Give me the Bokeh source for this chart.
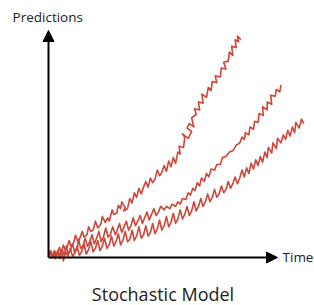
from bokeh.plotting import figure
from bokeh.models import Range1d, Arrow, NormalHead, Label
from bokeh.embed import file_html
from bokeh.resources import INLINE

# ---- data: (time, prediction) ----
path_top = [
    (0, 1.0), (1.0, 3.0), (1.8, 0.5), (3.0, 2.5), (3.5, 1.0), (4.8, 4.5), (5.5, 2.0), (6.5, 5.5),
    (7.2, 3.5), (8.0, 4.0), (9.0, 7.5), (9.8, 5.0), (11.0, 6.5), (11.8, 9.8), (12.8, 7.0),
    (13.5, 8.0), (14.8, 11.5), (15.5, 9.0), (16.8, 10.0), (17.5, 13.5), (18.5, 11.5), (19.5, 12.0),
    (20.5, 16.0), (21.5, 13.0), (22.8, 14.5), (23.5, 18.0), (24.8, 15.5), (25.8, 17.5), (26.5, 16.0),
    (27.8, 21.0), (28.5, 19.0), (29.8, 19.5), (30.5, 23.0), (31.5, 21.5), (32.0, 24.5), (33.5, 22.0),
    (32.8, 20.5), (34.5, 21.5), (35.5, 26.0), (36.5, 24.0), (37.5, 28.5), (38.5, 26.5), (39.5, 30.5),
    (40.5, 28.0), (41.5, 31.0), (42.5, 33.5), (43.5, 31.0), (44.5, 35.0), (45.5, 33.0), (46.5, 34.5),
    (47.5, 38.5), (48.5, 36.0), (49.5, 37.5), (50.5, 40.5), (51.5, 38.0), (52.5, 42.5), (53.5, 40.0),
    (54.5, 44.0), (55.5, 41.5), (56.5, 46.5), (57.5, 45.5), (57.0, 49.0), (59.0, 48.5), (59.5, 53.0),
    (58.5, 54.5), (61.0, 52.5), (62.5, 55.5), (60.5, 57.0), (61.5, 59.0), (63.5, 57.5), (62.5, 61.5),
    (64.5, 63.0), (63.8, 65.5), (66.0, 65.0), (65.5, 68.5), (67.5, 68.0), (67.0, 72.0), (69.0, 70.5),
    (69.8, 75.0), (71.0, 73.5), (71.5, 77.5), (73.5, 77.0), (72.8, 80.0), (75.0, 79.5), (75.5, 83.5),
    (77.5, 83.0), (76.5, 86.0), (78.5, 86.5), (79.0, 90.5), (80.5, 89.0), (80.0, 93.0), (82.0, 92.5),
    (81.5, 96.0), (83.0, 95.0), (82.5, 97.5), (84.0, 96.0),
]
path_mid = [
    (0, 0.5), (0.8, 2.5), (1.5, 0.0), (2.5, 3.0), (3.2, 0.5), (4.0, 1.8), (5.0, -0.5), (6.0, 3.5),
    (6.8, 1.0), (7.8, 5.0), (8.5, 1.5), (9.5, 3.0), (10.5, 6.0), (11.5, 2.0), (12.5, 4.0), (13.2, 8.0),
    (14.0, 4.0), (15.0, 5.0), (16.0, 8.5), (17.0, 5.0), (18.0, 7.0), (19.0, 10.0), (20.0, 6.0),
    (21.0, 8.5), (22.0, 11.5), (23.0, 7.0), (24.0, 9.0), (25.0, 13.0), (26.0, 9.0), (27.0, 10.0),
    (28.0, 13.5), (29.2, 10.0), (30.0, 12.0), (31.0, 15.0), (32.0, 11.0), (33.0, 13.5), (34.0, 16.0),
    (35.0, 12.0), (36.0, 14.0), (37.0, 17.5), (38.0, 14.0), (39.0, 16.0), (40.0, 18.5), (41.0, 15.0),
    (42.0, 17.5), (43.0, 20.0), (44.0, 16.5), (45.0, 19.0), (46.0, 21.5), (47.0, 18.5), (48.0, 20.0),
    (49.0, 22.5), (50.5, 21.0), (51.5, 22.5), (53.0, 21.5), (54.0, 23.5), (55.5, 22.5), (56.5, 24.5),
    (57.5, 23.5), (58.5, 26.0), (60.0, 25.5), (61.0, 28.5), (62.0, 27.5), (63.0, 30.5), (64.0, 29.5),
    (65.0, 33.0), (66.0, 31.5), (66.8, 35.0), (68.0, 33.5), (69.0, 37.0), (70.0, 35.5), (71.0, 39.0),
    (72.5, 38.5), (73.5, 41.0), (75.0, 41.0), (76.0, 44.0), (77.5, 44.5), (79.0, 46.5), (80.5, 47.0),
    (82.0, 49.5), (83.5, 50.5), (84.5, 53.0), (85.5, 52.0), (86.0, 55.0), (87.5, 54.0), (88.0, 57.5),
    (89.5, 56.5), (90.0, 60.0), (91.5, 59.5), (92.0, 63.5), (93.8, 62.5), (93.5, 66.5), (95.5, 65.0),
    (95.5, 68.5), (97.5, 67.5), (97.0, 71.5), (99.0, 71.0), (99.5, 74.0), (101.0, 73.0), (101.5, 76.0),
]
path_low = [
    (0, 0.5), (0.8, 2.5), (1.5, 0.0), (2.5, 1.5), (3.0, -0.5), (4.0, 3.0), (5.0, 1.0), (5.8, 2.0),
    (6.5, -1.5), (7.5, 2.5), (8.5, 0.5), (9.5, 4.0), (10.5, 0.5), (11.5, 2.0), (12.5, 5.0), (13.5, 1.0),
    (14.5, 2.5), (15.5, 6.0), (16.5, 1.5), (17.5, 3.5), (18.5, 7.0), (19.5, 2.5), (20.5, 4.0),
    (21.5, 7.5), (22.5, 3.0), (23.5, 5.0), (24.5, 8.5), (25.5, 4.0), (26.5, 5.5), (27.5, 9.5),
    (28.5, 5.0), (29.5, 7.0), (30.5, 10.5), (31.5, 5.5), (32.5, 7.5), (33.5, 11.5), (34.5, 7.0),
    (35.5, 8.0), (36.5, 12.0), (37.5, 7.5), (38.5, 9.5), (39.5, 13.5), (40.5, 8.5), (41.5, 10.0),
    (42.5, 14.0), (43.5, 9.5), (44.5, 11.0), (45.5, 15.0), (46.5, 10.5), (47.5, 12.5), (48.5, 16.5),
    (49.5, 12.0), (50.5, 14.0), (51.5, 18.0), (52.5, 13.5), (53.5, 15.5), (54.5, 19.5), (55.5, 15.0),
    (56.5, 17.0), (57.5, 21.0), (58.5, 17.0), (59.5, 19.0), (60.5, 22.5), (61.5, 18.5), (62.5, 20.5),
    (63.5, 24.5), (64.5, 20.5), (65.5, 22.5), (66.5, 26.0), (67.5, 22.5), (68.5, 24.5), (69.5, 28.0),
    (70.5, 24.5), (71.5, 26.5), (72.5, 30.0), (73.5, 26.5), (74.5, 28.0), (75.5, 31.5), (76.5, 28.5),
    (77.5, 30.0), (78.5, 33.5), (79.5, 30.5), (80.5, 32.5), (81.5, 35.5), (82.5, 32.5), (83.5, 35.0),
    (84.5, 38.5), (85.5, 35.5), (86.5, 39.5), (87.5, 37.0), (88.5, 41.5), (89.5, 39.0), (90.5, 43.0),
    (91.5, 40.5), (92.5, 44.5), (93.5, 42.0), (94.5, 46.5), (95.5, 44.0), (96.0, 48.5), (97.5, 46.0),
    (98.0, 50.5), (99.5, 48.0), (100.0, 52.5), (101.5, 50.5), (102.5, 54.0), (103.5, 52.0),
    (104.5, 56.0), (105.5, 53.5), (106.5, 57.5), (107.5, 55.0), (108.0, 59.5), (109.5, 57.0),
    (110.5, 61.0), (111.5, 59.0),
]

x_label = "Time"
y_label = "Predictions"
title_text = "Stochastic Model"

# ---- layout ----
W, H = 314, 305
RED = "#cf4537"
FONT = "Open Sans"

p = figure(width=W, height=H, output_backend="svg", toolbar_location=None,
           x_range=Range1d(-20.96, 116.16), y_range=Range1d(-21.15, 113.22),
           min_border=0, outline_line_color=None)
p.xaxis.visible = False
p.yaxis.visible = False
p.grid.visible = False

for path in (path_top, path_mid, path_low):
    xs = [pt[0] for pt in path]
    ys = [pt[1] for pt in path]
    p.line(xs, ys, line_color=RED, line_width=1.6, line_join="round")

head = dict(size=11, fill_color="black", line_color="black", line_width=1)
p.add_layout(Arrow(end=NormalHead(**head), x_start=0, y_start=0, x_end=0, y_end=100,
                   line_width=2, line_color="black"))
p.add_layout(Arrow(end=NormalHead(**head), x_start=0, y_start=0, x_end=100, y_end=0,
                   line_width=2, line_color="black"))

p.add_layout(Label(x=-15.7, y=105.8, text=y_label, text_font=FONT, text_font_size="13.5px",
                   text_color="#222222", text_baseline="alphabetic"))
p.add_layout(Label(x=102.2, y=0, text=x_label, text_font=FONT, text_font_size="13.5px",
                   text_color="#222222", text_baseline="middle"))
p.add_layout(Label(x=50, y=-16.0, text=title_text, text_font=FONT, text_font_size="18px",
                   text_color="#222222", text_align="center", text_baseline="alphabetic"))

open("out.html", "w").write(file_html(p, INLINE))
